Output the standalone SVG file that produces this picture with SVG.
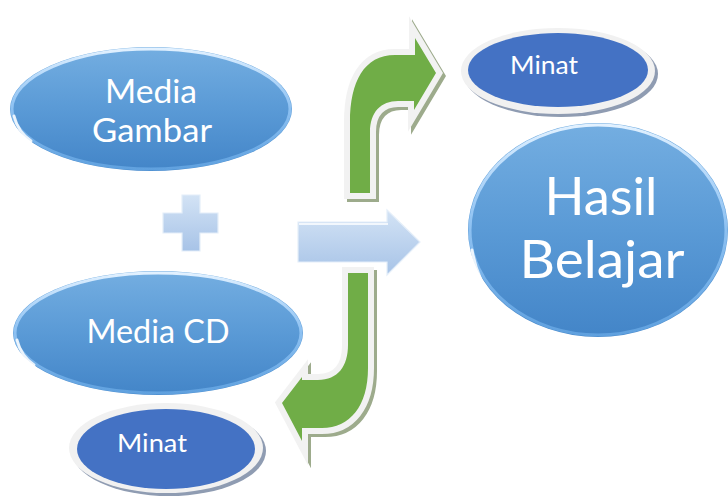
<svg xmlns="http://www.w3.org/2000/svg" width="728" height="500" viewBox="0 0 728 500">
<style>
.txt{font-family:Lato,"Open Sans","Liberation Sans",sans-serif;fill:#ffffff;text-anchor:middle}
.big{fill:url(#blueGrad)}
.rim{fill:none;stroke:url(#rimGrad);stroke-width:3}
.spec{fill:none;stroke:#ffffff;stroke-width:3;stroke-linecap:round;opacity:0.85}
.mshadow{fill:#8f9cb2}
.mring{fill:#f1f1f1}
.mblue{fill:#4472c4}
.gshadow{fill:#9dab8c;stroke:#9dab8c;stroke-width:12;stroke-linejoin:miter;stroke-miterlimit:10}
.gborder{fill:#f2f2f2;stroke:#f2f2f2;stroke-width:12;stroke-linejoin:miter;stroke-miterlimit:10}
.green{fill:#70ad47}
.light{fill:url(#lightGrad);stroke:#e4eef9;stroke-width:1.2}
</style>
<defs>
<linearGradient id="blueGrad" x1="0" y1="0" x2="0" y2="1">
<stop offset="0" stop-color="#74aee1"/>
<stop offset="0.5" stop-color="#5a9ad6"/>
<stop offset="1" stop-color="#4385c8"/>
</linearGradient>
<linearGradient id="rimGrad" x1="0" y1="0" x2="0" y2="1">
<stop offset="0" stop-color="#e2f1ff" stop-opacity="1"/>
<stop offset="0.45" stop-color="#a9d5ff" stop-opacity="0.7"/>
<stop offset="1" stop-color="#7cbcf5" stop-opacity="0.5"/>
</linearGradient>
<linearGradient id="lightGrad" x1="0" y1="0" x2="0" y2="1">
<stop offset="0" stop-color="#d3e3f5"/>
<stop offset="1" stop-color="#a7c3e7"/>
</linearGradient>
<path id="upArrow" d="M350,193 L350,122 C350,82 364,55 395,55 L415,55 L415,38 L436,73 L414,110 L414,101 L398,101 C381,101 370,112 370,132 L370,193 Z"/>
<path id="downArrow" d="M348,273 L368,273 L368,368 C368,406 350,428 322,428 L302,428 L302,441 L282,403 L302,377 L302,380 L318,380 C338,380 348,366 348,345 Z"/>
</defs>

<g id="connectors">
<g id="arrow-right">
<path class="light" d="M298,222 H387 V210 L420,242 L387,275 V262 H298 Z"/>
<path d="M299,224 H388" stroke="#f2f7fd" stroke-width="2" fill="none"/>
</g>
<g id="arrow-up">
<use href="#upArrow" class="gshadow" transform="translate(3,3)"/>
<use href="#upArrow" class="gborder"/>
<use href="#upArrow" class="green"/>
</g>
<g id="arrow-down">
<use href="#downArrow" class="gshadow" transform="translate(3,3)"/>
<use href="#downArrow" class="gborder"/>
<use href="#downArrow" class="green"/>
</g>
</g>

<g id="media-gambar">
<ellipse class="big" cx="151" cy="109" rx="141" ry="62"/>
<ellipse class="rim" cx="151" cy="109" rx="139" ry="60"/>
<path class="spec" d="M14,116 Q18,132 31,141"/>
<text class="txt" x="151" y="103" font-size="32" textLength="92" lengthAdjust="spacingAndGlyphs">Media</text>
<text class="txt" x="152" y="142" font-size="32" textLength="120" lengthAdjust="spacingAndGlyphs">Gambar</text>
</g>

<g id="plus">
<path class="light" d="M182,195 H200 V213 H218 V233 H200 V251 H182 V233 H163 V213 H182 Z"/>
</g>

<g id="media-cd">
<ellipse class="big" cx="158" cy="333" rx="145" ry="62"/>
<ellipse class="rim" cx="158" cy="333" rx="143" ry="60"/>
<path class="spec" d="M17,340 Q21,356 34,365"/>
<text class="txt" x="158" y="343" font-size="32" textLength="143" lengthAdjust="spacingAndGlyphs">Media CD</text>
</g>

<g id="minat-top">
<ellipse class="mshadow" cx="561" cy="74" rx="97" ry="43"/>
<ellipse class="mring" cx="558" cy="71" rx="97" ry="43"/>
<ellipse class="mblue" cx="558" cy="70" rx="90" ry="37"/>
<text class="txt" x="544" y="74" font-size="25" textLength="68" lengthAdjust="spacingAndGlyphs">Minat</text>
</g>

<g id="hasil-belajar">
<ellipse class="big" cx="598" cy="230" rx="130" ry="107"/>
<ellipse class="rim" cx="598" cy="230" rx="128" ry="105"/>
<path class="spec" d="M472,250 Q477,280 494,300"/>
<text class="txt" x="601" y="215" font-size="52" textLength="113" lengthAdjust="spacingAndGlyphs">Hasil</text>
<text class="txt" x="602" y="278" font-size="52" textLength="165" lengthAdjust="spacingAndGlyphs">Belajar</text>
</g>

<g id="minat-bottom">
<ellipse class="mshadow" cx="169" cy="451" rx="97" ry="45"/>
<ellipse class="mring" cx="166" cy="448" rx="97" ry="45"/>
<ellipse class="mblue" cx="166" cy="449" rx="89" ry="40"/>
<text class="txt" x="152" y="452" font-size="25" textLength="70" lengthAdjust="spacingAndGlyphs">Minat</text>
</g>
</svg>
